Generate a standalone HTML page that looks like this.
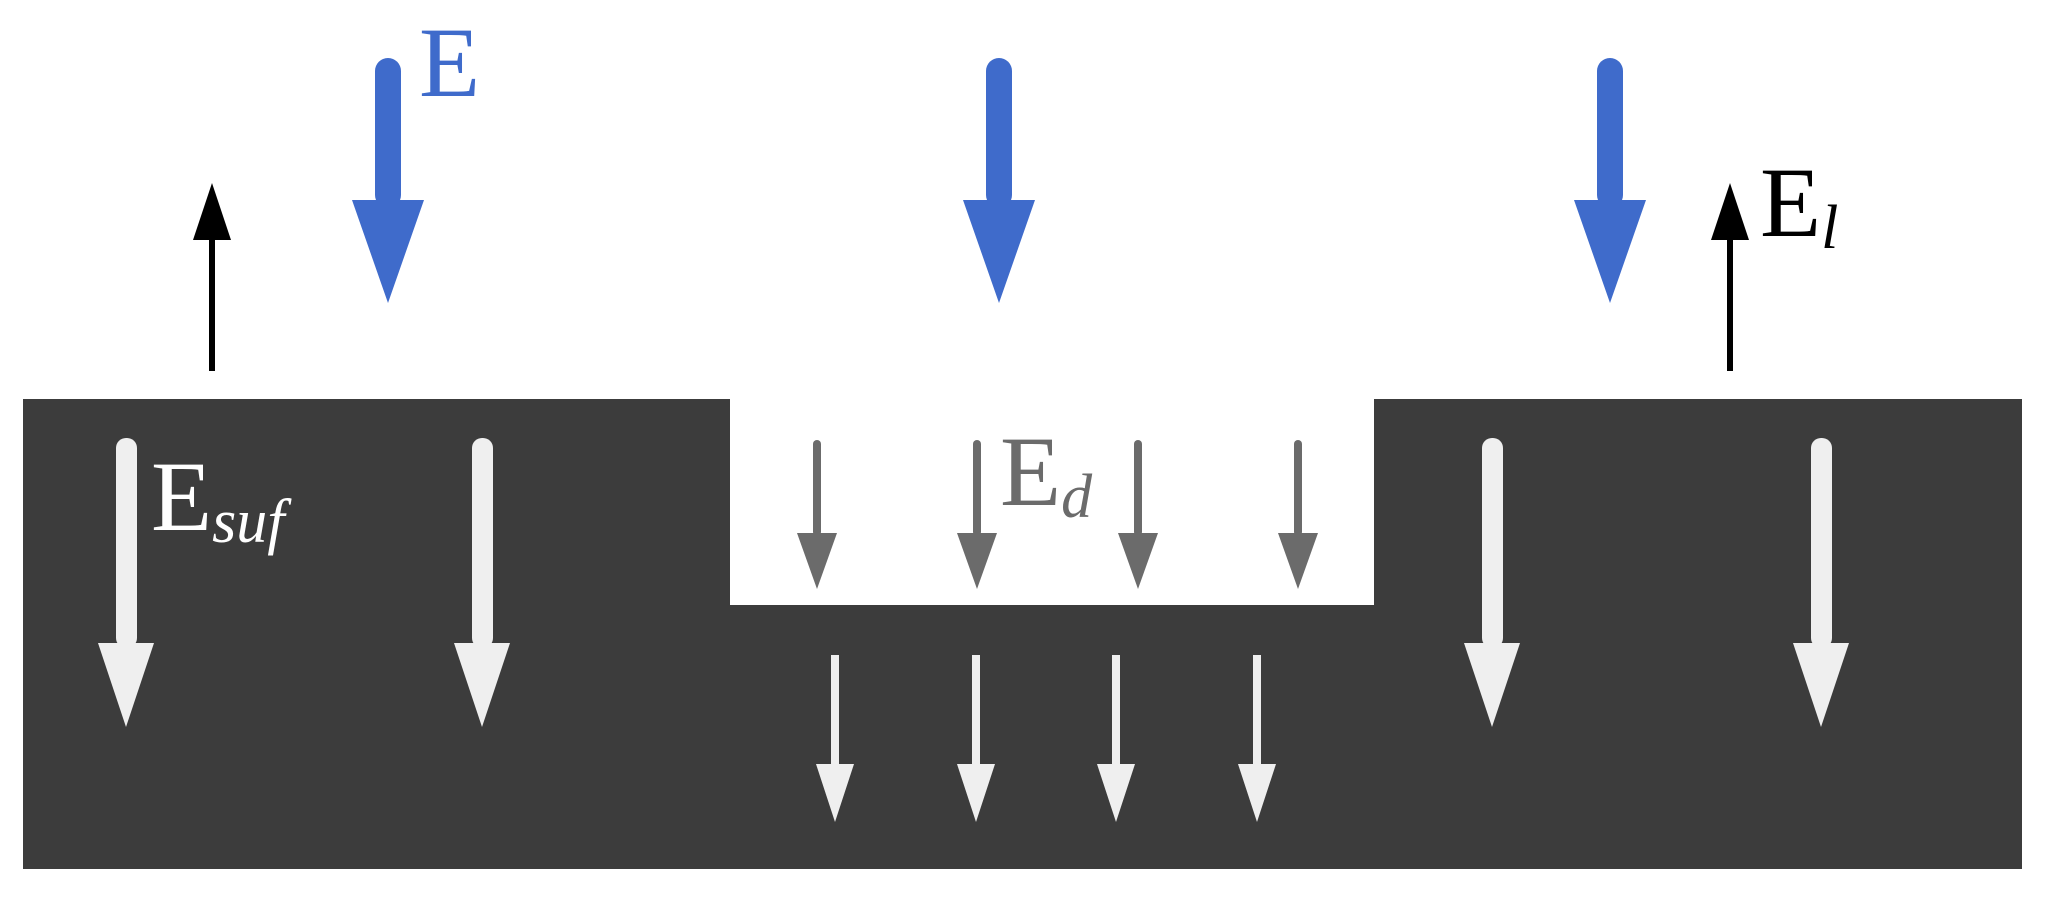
<!DOCTYPE html>
<html><head><meta charset="utf-8"><style>html,body{margin:0;padding:0;background:#fff}svg{display:block}text,tspan{font-family:"Liberation Serif","Times New Roman",serif}</style></head>
<body>
<svg width="2048" height="902" viewBox="0 0 2048 902" xmlns="http://www.w3.org/2000/svg">
<path d="M23 399 H730 V605 H1374 V399 H2022 V869 H23 Z" fill="#3c3c3c"/>
<g fill="#3f6bcb">
<rect x="375" y="58" width="26" height="150" rx="13"/><polygon points="352,200 424,200 388,303"/>
<rect x="986" y="58" width="26" height="150" rx="13"/><polygon points="963,200 1035,200 999,303"/>
<rect x="1597" y="58" width="26" height="150" rx="13"/><polygon points="1574,200 1646,200 1610,303"/>
</g>
<g fill="#000">
<rect x="209" y="235" width="6" height="136"/><polygon points="193,240 231,240 212,183"/>
<rect x="1727" y="235" width="6" height="136"/><polygon points="1711,240 1749,240 1730,183"/>
</g>
<g fill="#efefef">
<rect x="116" y="438" width="21" height="210" rx="10"/><polygon points="98,643 154,643 126,727"/>
<rect x="472" y="438" width="21" height="210" rx="10"/><polygon points="454,643 510,643 482,727"/>
<rect x="1482" y="438" width="21" height="210" rx="10"/><polygon points="1464,643 1520,643 1492,727"/>
<rect x="1811" y="438" width="21" height="210" rx="10"/><polygon points="1793,643 1849,643 1821,727"/>
<rect x="831" y="655" width="8" height="112"/><polygon points="816,764 854,764 835,822"/>
<rect x="972" y="655" width="8" height="112"/><polygon points="957,764 995,764 976,822"/>
<rect x="1112" y="655" width="8" height="112"/><polygon points="1097,764 1135,764 1116,822"/>
<rect x="1253" y="655" width="8" height="112"/><polygon points="1238,764 1276,764 1257,822"/>
</g>
<g fill="#6b6b6b">
<rect x="813" y="440" width="8" height="96" rx="4"/><polygon points="797,533 837,533 817,589"/>
<rect x="973" y="440" width="8" height="96" rx="4"/><polygon points="957,533 997,533 977,589"/>
<rect x="1134" y="440" width="8" height="96" rx="4"/><polygon points="1118,533 1158,533 1138,589"/>
<rect x="1294" y="440" width="8" height="96" rx="4"/><polygon points="1278,533 1318,533 1298,589"/>
</g>
<text x="419" y="96" font-size="100" fill="#3f6bcb">E</text>
<text x="151" y="530" font-size="100" fill="#fff">E<tspan font-style="italic" font-size="62" dy="12">suf</tspan></text>
<text x="1000" y="505" font-size="100" fill="#6b6b6b">E<tspan font-style="italic" font-size="62" dy="12">d</tspan></text>
<text x="1760" y="236" font-size="100" fill="#000">E<tspan font-style="italic" font-size="62" dy="12">l</tspan></text>
</svg>
</body></html>
